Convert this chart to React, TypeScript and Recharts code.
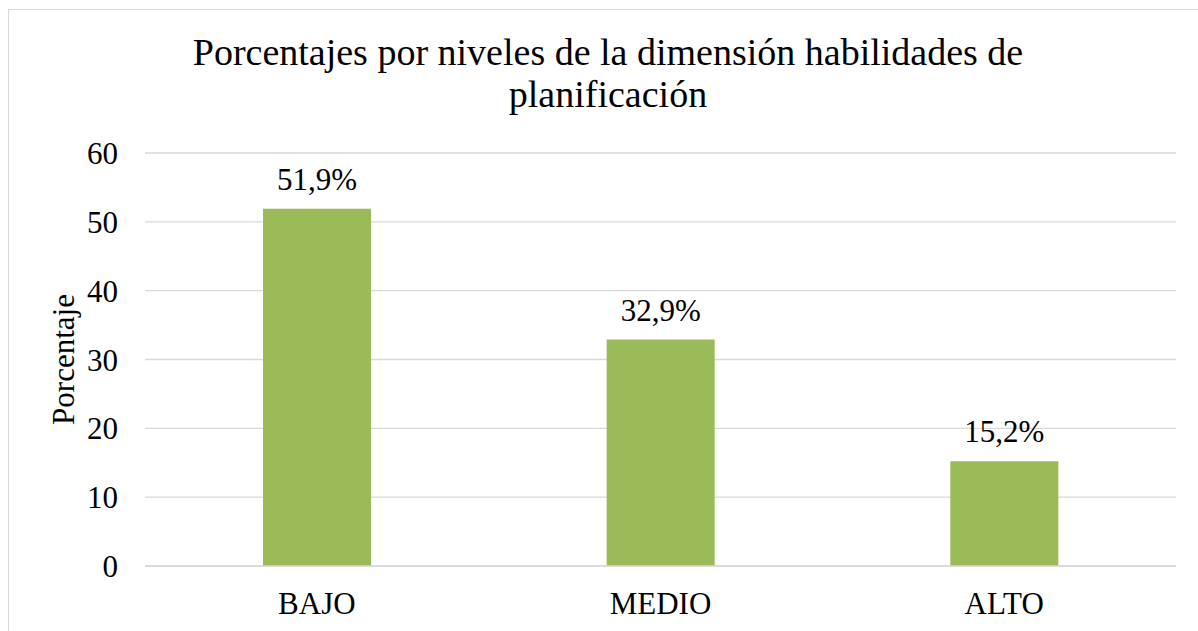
import React from 'react';
import { BarChart, Bar, XAxis, YAxis, CartesianGrid, LabelList, Label } from 'recharts';

const categories = ['BAJO', 'MEDIO', 'ALTO'];
const percentages = [51.9, 32.9, 15.2];
const yTicks = [0, 10, 20, 30, 40, 50, 60];
const titleLines = ['Porcentajes por niveles de la dimensión habilidades de', 'planificación'];
const yAxisTitle = 'Porcentaje';

const data = categories.map((name, i) => ({ name, value: percentages[i] }));

const FONT = '"Liberation Serif", "Times New Roman", serif';
const GRID = '#D9D9D9';
const BAR = '#9BBB59';

const fmt = (v: number) => v.toFixed(1).replace('.', ',') + '%';

const YLabel = (props: any) => {
  const vb = props.viewBox || {};
  const cy = vb.y + vb.height / 2;
  const x = 66;
  return (
    <text
      x={x}
      y={cy}
      transform={`rotate(-90, ${x}, ${cy})`}
      textAnchor="middle"
      fontSize={31}
      fontFamily={FONT}
      fill="#000"
    >
      {yAxisTitle}
    </text>
  );
};

export default function App() {
  return (
    <div style={{ position: 'fixed', left: 0, top: 0, width: 1198, height: 631, overflow: 'hidden', background: '#fff' }}>
      <div
        style={{
          position: 'absolute',
          left: 8,
          top: 9,
          width: 1200,
          height: 640,
          borderLeft: `1px solid ${GRID}`,
          borderTop: `1px solid ${GRID}`,
          boxSizing: 'border-box',
        }}
      />
      <div
        style={{
          position: 'absolute',
          left: 108,
          top: 31,
          width: 1000,
          textAlign: 'center',
          fontFamily: FONT,
          fontSize: 38,
          lineHeight: '42px',
          color: '#000',
        }}
      >
        {titleLines[0]}
        <br />
        {titleLines[1]}
      </div>
      <div style={{ position: 'absolute', left: 8, top: 9 }}>
        <BarChart
          width={1190}
          height={622}
          data={data}
          margin={{ top: 144, right: 22, bottom: 5, left: 0 }}
          barSize={108}
        >
          <CartesianGrid vertical={false} stroke={GRID} strokeWidth={1.3} />
          <XAxis
            dataKey="name"
            height={60}
            tickLine={false}
            tickSize={0}
            tickMargin={26}
            axisLine={{ stroke: GRID, strokeWidth: 1.3 }}
            tick={{ fontSize: 31, fontFamily: FONT, fill: '#000' }}
            interval={0}
          />
          <YAxis
            width={137}
            domain={[0, 60]}
            ticks={yTicks}
            tickLine={false}
            tickSize={0}
            tickMargin={27}
            axisLine={false}
            tick={{ fontSize: 31, fontFamily: FONT, fill: '#000' }}
          >
            <Label content={YLabel} />
          </YAxis>
          <Bar dataKey="value" fill={BAR} isAnimationActive={false}>
            <LabelList
              dataKey="value"
              position="top"
              offset={19}
              formatter={(v: any) => fmt(Number(v))}
              style={{ fontSize: 31, fontFamily: FONT, fill: '#000' }}
            />
          </Bar>
        </BarChart>
      </div>
    </div>
  );
}
